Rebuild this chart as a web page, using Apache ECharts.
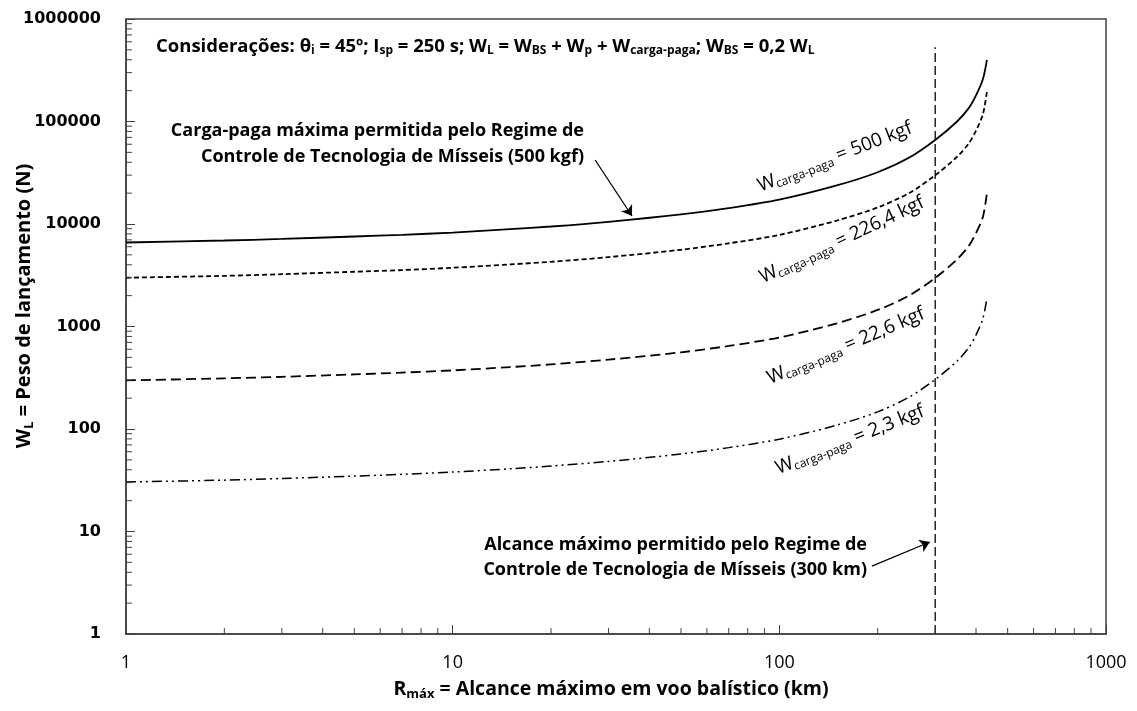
<!DOCTYPE html>
<html><head><meta charset="utf-8">
<script src="https://cdn.jsdelivr.net/npm/echarts@6/dist/echarts.min.js"></script>
<style>html,body{margin:0;padding:0;background:#fff}#c{width:1137px;height:711px}</style>
</head><body><div id="c"></div>
<script>
// ---- data ----
const ranges = [1,2,3,5,7,10,15,20,30,50,70,100,150,200,250,300,350,380,400,420,432];
const w500  = [6600,6900,7150,7550,7850,8250,8900,9450,10500,12400,14300,17300,23800,32000,44500,66000,100000,135000,180000,260000,400000];
const w226  = [2990,3120,3240,3420,3550,3740,4030,4280,4750,5610,6480,7830,10800,14500,20100,29900,45300,61100,81500,118000,195000];
const w22   = [298,312,323,341,355,373,402,427,475,560,646,782,1075,1450,2010,2980,4520,6100,8140,11750,20000];
const w2    = [30.4,31.7,32.9,34.7,36.1,38.0,40.9,43.5,48.3,57.0,65.8,79.6,109,147,205,304,460,621,828,1200,1900];
const xTickLabels = ['1','10','100','1000'];
const yTickLabels = ['1','10','100','1000','10000','100000','1000000'];
const mtcrRange = 300;          // km
const mtcrLineTop = 530000;     // where the dashed limit line stops
const arrow1 = [[27.3,42100],[35.4,11970]];
const arrow2 = [[192,4.6],[289,7.9]];

const pair = (xs, ys) => xs.map((x,i)=>[x, ys[i]]);
const minorVals = (lo, hi) => { const a=[]; for(let p=lo;p<hi;p++) for(let m=2;m<=9;m++) a.push(m*Math.pow(10,p)); return a; };
const xMinor = minorVals(0,3), yMinor = minorVals(0,6);

const CAL = "'Open Sans',sans-serif";
const AX = '#404040';
const chart = echarts.init(document.getElementById('c'), null, {renderer:'canvas'});

const subB = (fs)=>({fontSize:fs, fontWeight:'bold', fontFamily:CAL, padding:[Math.round(fs*0.75),0,0,0], fill:'#000'});
const subR = {fontSize:12, fontFamily:CAL, padding:[9,0,0,0], fill:'#000'};

function curveLabel(x,y,rot,text){
  return {type:'text', x, y, rotation:rot, z:50,
    style:{text, align:'center', verticalAlign:'middle', fontSize:19, fontFamily:CAL, fill:'#000', rich:{s:subR}}};
}

const option = {
  animation:false,
  backgroundColor:'#fff',
  grid:{left:126, right:31, top:19, bottom:77, show:true, borderColor:AX, borderWidth:1.5},
  xAxis:{type:'log', logBase:10, min:1, max:1000,
    axisLine:{show:true, lineStyle:{color:AX, width:1.5}},
    axisTick:{show:true, inside:true, length:9, lineStyle:{color:AX}},
    splitLine:{show:false},
    axisLabel:{margin:20, fontSize:18, fontFamily:CAL, color:'#000', formatter:(v)=>xTickLabels[Math.round(Math.log10(v))]}},
  yAxis:{type:'log', logBase:10, min:1, max:1000000,
    axisLine:{show:true, lineStyle:{color:AX, width:1.5}},
    axisTick:{show:true, inside:true, length:9, lineStyle:{color:AX}},
    splitLine:{show:false},
    axisLabel:{margin:25, fontSize:16, fontWeight:'bold', fontFamily:"'DejaVu Sans',sans-serif", color:'#000', formatter:(v)=>yTickLabels[Math.round(Math.log10(v))]}},
  series:[
    {type:'line', data:pair(ranges,w500), smooth:0.3, symbol:'none', lineStyle:{color:'#000', width:1.8, type:'solid'}},
    {type:'line', data:pair(ranges,w226), smooth:0.3, symbol:'none', lineStyle:{color:'#000', width:1.8, type:[5,3]}},
    {type:'line', data:pair(ranges,w22), smooth:0.3, symbol:'none', lineStyle:{color:'#000', width:1.8, type:[10,5]}},
    {type:'line', data:pair(ranges,w2), smooth:0.3, symbol:'none', lineStyle:{color:'#000', width:1.5, type:[10,4,2,4,2,4]}},
    {type:'line', data:[[mtcrRange,1],[mtcrRange,mtcrLineTop]], symbol:'none', lineStyle:{color:'#000', width:1.3, type:[9,4]},
      markLine:{silent:true, symbol:['none','arrow'], symbolSize:10, label:{show:false},
        lineStyle:{color:'#000', width:1.3, type:'solid'},
        data:[[{coord:arrow1[0]},{coord:arrow1[1]}],[{coord:arrow2[0]},{coord:arrow2[1]}]]}},
    {type:'custom', silent:true, clip:false, z:5, data:yMinor.map(v=>[1,v]), encode:{x:0,y:1},
      renderItem:(p,api)=>{const c=api.coord([api.value(0),api.value(1)]);
        return {type:'line', shape:{x1:c[0],y1:c[1],x2:c[0]+6,y2:c[1]}, style:{stroke:AX, lineWidth:1}};}},
    {type:'custom', silent:true, clip:false, z:5, data:xMinor.map(v=>[v,1]), encode:{x:0,y:1},
      renderItem:(p,api)=>{const c=api.coord([api.value(0),api.value(1)]);
        return {type:'line', shape:{x1:c[0],y1:c[1],x2:c[0],y2:c[1]-6}, style:{stroke:AX, lineWidth:1}};}}
  ],
  graphic:[
    {type:'text', left:156, top:37, z:50, style:{text:'Considerações: θ{s|i} = 45º; I{s|sp} = 250 s; W{s|L} = W{s|BS} + W{s|p} + W{s|carga-paga}; W{s|BS} = 0,2 W{s|L}',
      fontSize:18.5, fontWeight:'bold', fontFamily:CAL, fill:'#000', rich:{s:subB(12)}}},
    {type:'text', x:584, y:144, z:50, style:{text:'Carga-paga máxima permitida pelo Regime de\nControle de Tecnologia de Mísseis (500 kgf)',
      align:'right', verticalAlign:'middle', lineHeight:26, fontSize:18, fontWeight:'bold', fontFamily:CAL, fill:'#000'}},
    {type:'text', x:867, y:557, z:50, style:{text:'Alcance máximo permitido pelo Regime de\nControle de Tecnologia de Mísseis (300 km)',
      align:'right', verticalAlign:'middle', lineHeight:25, fontSize:18, fontWeight:'bold', fontFamily:CAL, fill:'#000'}},
    curveLabel(835,157,0.37,'W{s|carga-paga} = 500 kgf'),
    curveLabel(842,240,0.44,'W{s|carga-paga} = 226,4 kgf'),
    curveLabel(846,346,0.40,'W{s|carga-paga} = 22,6 kgf'),
    curveLabel(850,440,0.38,'W{s|carga-paga} = 2,3 kgf'),
    {type:'text', x:24, y:306, rotation:Math.PI/2, z:50, style:{text:'W{s|L} = Peso de lançamento (N)',
      align:'center', verticalAlign:'middle', fontSize:20, fontWeight:'bold', fontFamily:CAL, fill:'#000', rich:{s:subB(13)}}},
    {type:'text', x:611, y:689, z:50, style:{text:'R{s|máx} = Alcance máximo em voo balístico (km)',
      align:'center', verticalAlign:'middle', fontSize:19.5, fontWeight:'bold', fontFamily:CAL, fill:'#000', rich:{s:subB(13)}}}
  ]
};
chart.setOption(option);
</script></body></html>
